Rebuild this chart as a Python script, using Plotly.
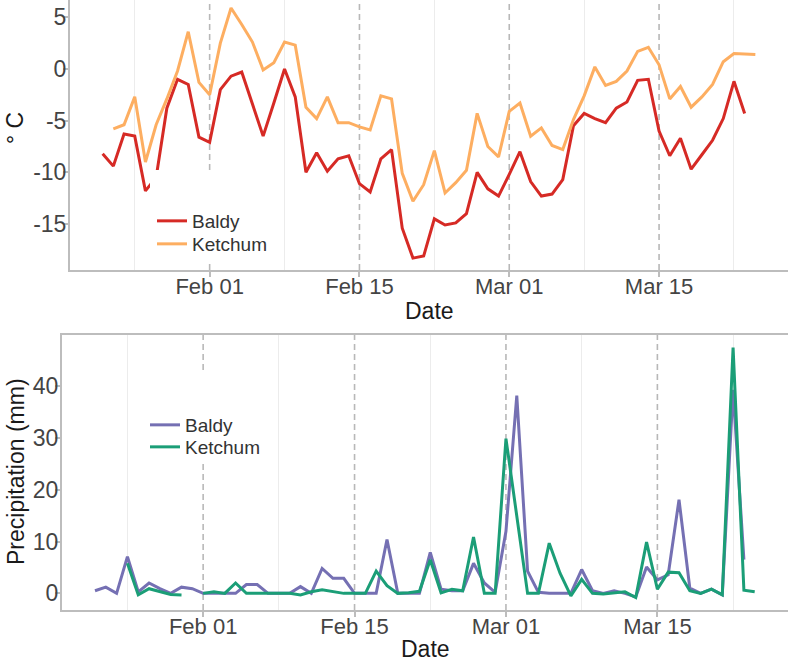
import pandas as pd
import plotly.graph_objects as go

# Daily mean air temperature (deg C)
baldy_temp_start = "2019-01-22"
baldy_temp = [
    -8.2, -9.4, -6.3, -6.5, -11.8, -10.5, -3.8, -1.0, -1.5, -6.6,
    -7.1, -2.0, -0.7, -0.3, -3.4, -6.5, -3.3, 0.0, -2.7, -10.0, -8.1, -9.9, -8.7, -8.4,
    -11.1, -11.9, -8.7, -7.8, -15.4, -18.3, -18.1, -14.5, -15.1, -14.9, -14.0, -10.0, -11.6, -12.3,
    -10.2, -8.0, -10.9, -12.3, -12.1, -10.7, -5.5, -4.3, -4.8, -5.2, -3.8, -3.2, -1.1, -1.0,
    -6.0, -8.4, -6.7, -9.7, -8.3, -6.9, -4.8, -1.2, -4.3,
]
ketchum_temp_start = "2019-01-23"
ketchum_temp = [
    -5.8, -5.4, -2.7, -9.0, -5.4, -2.9, -0.2, 3.6, -1.3,
    -2.5, 2.5, 5.9, 4.3, 2.6, -0.1, 0.6, 2.6, 2.3, -3.7, -4.8, -2.7, -5.2, -5.2,
    -5.6, -5.9, -2.6, -2.9, -10.1, -12.8, -11.2, -7.9, -12.0, -11.0, -9.8, -4.3, -7.5, -8.5,
    -4.1, -3.3, -6.5, -5.7, -7.4, -7.8, -4.9, -2.6, 0.2, -1.6, -1.2, -0.2, 1.7, 2.1,
    0.4, -2.9, -1.7, -3.7, -2.7, -1.5, 0.7, 1.5, 1.45, 1.4,
]

# Daily precipitation (mm)
baldy_precip_start = "2019-01-22"
baldy_precip = [
    0.5, 1.2, 0.0, 7.1, 0.3, 2.0, 0.9, 0.0, 1.2, 0.9,
    0.0, 0.0, 0.0, 0.0, 1.7, 1.7, 0.0, 0.0, 0.0, 1.3, 0.0, 4.8, 2.9, 2.9,
    0.0, 0.0, 0.0, 10.4, 0.0, 0.0, 0.0, 7.9, 0.8, 0.5, 0.5, 5.8, 2.0, 0.2,
    12.0, 38.2, 4.3, 0.2, 0.0, 0.0, 0.0, 4.6, 0.5, 0.0, 0.5, 0.0, -0.7, 5.1,
    2.6, 3.6, 18.1, 1.0, 0.0, 0.8, -0.3, 39.3, 6.5,
]
ketchum_precip_start = "2019-01-25"
ketchum_precip = [
    5.8, -0.3, 0.9, 0.4, -0.2, -0.3, None,
    0.0, 0.3, 0.0, 2.0, 0.0, 0.0, 0.0, 0.0, 0.0, -0.3, 0.3, 0.7, 0.3, 0.0,
    0.0, 0.0, 4.3, 1.5, 0.0, 0.1, 0.4, 6.5, 0.1, 0.8, 0.5, 10.9, 0.0, 0.0,
    29.9, 15.0, 0.0, 0.0, 9.7, 3.9, -0.5, 2.7, 0.0, -0.1, 0.1, 0.3, -0.8, 9.9,
    0.8, 4.1, 4.0, 0.5, 0.0, 0.8, -0.3, 47.5, 0.6, 0.3,
]

major_dates = ["2019-02-01", "2019-02-15", "2019-03-01", "2019-03-15"]
major_labels = ["Feb 01", "Feb 15", "Mar 01", "Mar 15"]
temp_ticks = [-15, -10, -5, 0, 5]
temp_tick_labels = ["-15", "-10", "-5", "0", "5"]
precip_ticks = [0, 10, 20, 30, 40]
precip_tick_labels = ["0", "10", "20", "30", "40"]


def days(start, values):
    return pd.date_range(start, periods=len(values), freq="D")


W, H = 788, 663
FONT = "Liberation Sans, Arial, Helvetica, sans-serif"
TICK_COLOR = "#444444"
AXIS_LINE = "#bdbdbd"
LINE_W = 3.0


def px_x(p):
    return p / W


def px_y(p):
    return 1 - p / H


fig = go.Figure()

series = [
    ("Baldy", baldy_temp_start, baldy_temp, "#D62A25", "x", "y", "legend"),
    ("Ketchum", ketchum_temp_start, ketchum_temp, "#FDAE61", "x", "y", "legend2"),
    ("Baldy", baldy_precip_start, baldy_precip, "#7570B3", "x2", "y2", "legend3"),
    ("Ketchum", ketchum_precip_start, ketchum_precip, "#1B9E77", "x2", "y2", "legend4"),
]
for name, start, vals_, color, xa, ya, lg in series:
    fig.add_trace(go.Scatter(x=days(start, vals_), y=vals_, name=name, mode="lines",
                             line=dict(color=color, width=LINE_W),
                             xaxis=xa, yaxis=ya, legend=lg))

# x range: full date span with 5% padding each side
all_dates = list(days(baldy_temp_start, baldy_temp)) + list(days(ketchum_temp_start, ketchum_temp))
d0, d1 = min(all_dates), max(all_dates)
pad = (d1 - d0) * 0.05
x_range = [d0 - pad, d1 + pad]

vals = [v for v in baldy_precip + ketchum_precip if v is not None]
p_pad = (max(vals) - min(vals)) * 0.05
precip_range = [min(vals) - p_pad, max(vals) + p_pad]

xaxis_common = dict(
    type="date", range=x_range, tickvals=major_dates, ticktext=major_labels,
    showgrid=False, zeroline=False, showline=True, linecolor=AXIS_LINE, linewidth=2,
    ticks="outside", ticklen=5, tickwidth=1.5, tickcolor=AXIS_LINE,
    tickfont=dict(family=FONT, size=22, color=TICK_COLOR), ticklabelstandoff=-9,
    minor=dict(tick0="2019-01-25", dtick=14 * 86400000, showgrid=True,
               gridcolor="#ececec", gridwidth=1.3, ticks=""),
    automargin=False,
)
yaxis_common = dict(
    showgrid=False, zeroline=False, showline=True, linecolor=AXIS_LINE, linewidth=2,
    ticks="outside", ticklen=5, tickwidth=1.5, tickcolor=AXIS_LINE,
    tickfont=dict(family=FONT, size=23, color=TICK_COLOR), ticklabelstandoff=-8,
    automargin=False,
)

legend_font = dict(family=FONT, size=19, color="#333333")


def legend_at(xp, yp):
    return dict(x=px_x(xp), y=px_y(yp), xanchor="left", yanchor="middle",
                bgcolor="rgba(0,0,0,0)", font=legend_font)


fig.update_layout(
    width=W, height=H,
    margin=dict(l=0, r=0, t=0, b=0),
    paper_bgcolor="white", plot_bgcolor="white",
    xaxis=dict(xaxis_common, domain=[px_x(70), 1.0], anchor="y"),
    yaxis=dict(yaxis_common, domain=[px_y(270), 1.0], anchor="x",
               range=[-19.45, 6.67], tickvals=temp_ticks, ticktext=temp_tick_labels),
    xaxis2=dict(xaxis_common, domain=[px_x(62), px_x(787.7)], anchor="y2", mirror=True),
    yaxis2=dict(yaxis_common, domain=[px_y(610), px_y(335)], anchor="x2", mirror=True,
                range=precip_range, tickvals=precip_ticks, ticktext=precip_tick_labels),
    legend=legend_at(152, 221),
    legend2=legend_at(152, 244),
    legend3=legend_at(145, 425),
    legend4=legend_at(145, 447),
    showlegend=True,
)

shapes = []
# dashed markers at the start and middle of each month
for xr, yr in (("x", "y"), ("x2", "y2")):
    for d in major_dates:
        shapes.append(dict(type="line", xref=xr, yref=f"{yr} domain",
                           x0=d, x1=d, y0=0, y1=1, layer="below",
                           line=dict(color="#b8b8b8", width=1.6, dash="6px,4px")))
# legend background panels
shapes.append(dict(type="rect", xref="paper", yref="paper", layer="above",
                   x0=px_x(150), x1=px_x(280), y0=px_y(262), y1=px_y(170),
                   fillcolor="white", line=dict(width=0)))
shapes.append(dict(type="rect", xref="paper", yref="paper", layer="above",
                   x0=px_x(143), x1=px_x(275), y0=px_y(463), y1=px_y(373),
                   fillcolor="white", line=dict(width=0)))
fig.update_layout(shapes=shapes)

title_font = dict(family=FONT, size=23, color="#1a1a1a")
fig.add_annotation(text="Date", xref="paper", yref="paper", x=px_x(429), y=px_y(311),
                   xanchor="center", yanchor="middle", showarrow=False, font=title_font)
fig.add_annotation(text="Date", xref="paper", yref="paper", x=px_x(425), y=px_y(649),
                   xanchor="center", yanchor="middle", showarrow=False, font=title_font)
fig.add_annotation(text="° C", xref="paper", yref="paper", x=px_x(15), y=px_y(128),
                   xanchor="center", yanchor="middle", showarrow=False, textangle=-90,
                   font=title_font)
fig.add_annotation(text="Precipitation (mm)", xref="paper", yref="paper", x=px_x(16), y=px_y(472),
                   xanchor="center", yanchor="middle", showarrow=False, textangle=-90,
                   font=title_font)

fig.write_html("out.html")
